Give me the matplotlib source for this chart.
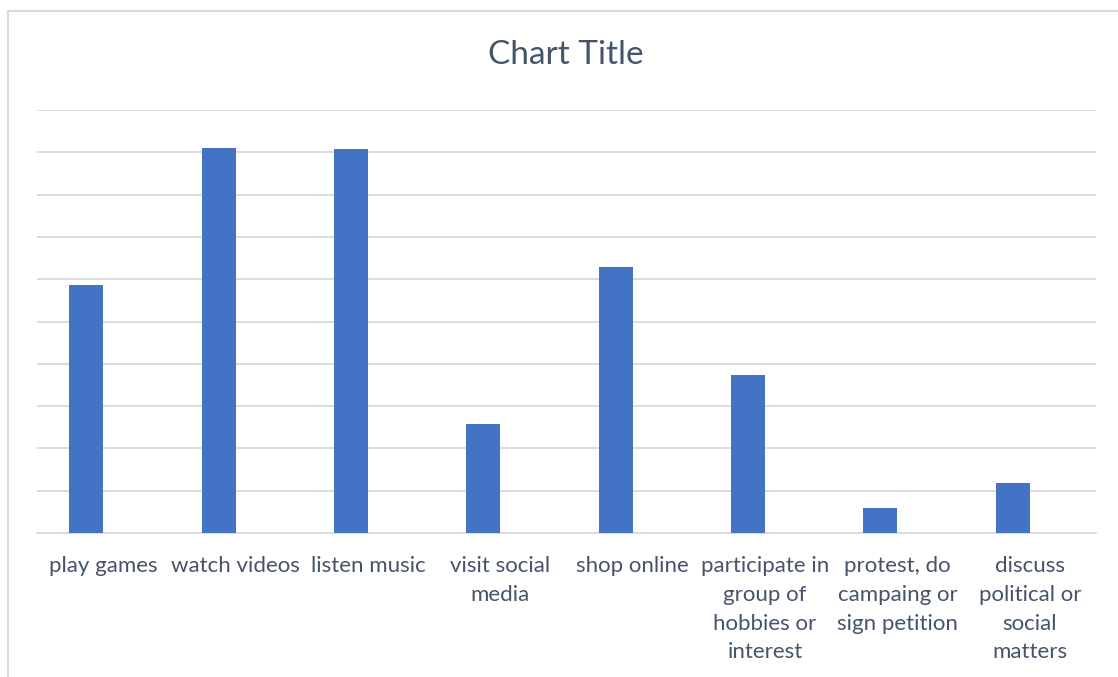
import matplotlib.pyplot as plt
from matplotlib.lines import Line2D

categories = ['play games', 'watch videos', 'listen music', 'visit social\nmedia',
              'shop online', 'participate in\ngroup of\nhobbies or\ninterest',
              'protest, do\ncampaing or\nsign petition', 'discuss\npolitical or\nsocial\nmatters']
values = [5.87, 9.10, 9.08, 2.58, 6.28, 3.74, 0.58, 1.18]

plt.rcParams['font.family'] = ['Lato', 'DejaVu Sans']
txt = '#44546A'

fig = plt.figure(figsize=(11.18, 6.77), dpi=100)
ax = fig.add_axes([37/1118, 1-533/677, (1096-37)/1118, (533-110)/677])

x = list(range(len(categories)))
w = 0.257
# bars sit in the left half of each category slot (empty second series in the original)
ax.bar([i - w/2 for i in x], values, width=w, color='#4472C4', zorder=3)

ax.set_ylim(0, 10)
ax.set_xlim(-0.5, 7.5)
ax.set_yticks(range(0, 11))
ax.yaxis.grid(True, color='#d9d9d9', linewidth=1.3, zorder=0)
ax.tick_params(left=False, labelleft=False, bottom=False)
for s in ['left', 'right', 'top']:
    ax.spines[s].set_visible(False)
ax.spines['bottom'].set_color('#d9d9d9')
ax.spines['bottom'].set_linewidth(1.3)

ax.set_xticks(x)
ax.set_xticklabels(categories, fontsize=16, color=txt, linespacing=1.55, va='top')
ax.tick_params(axis='x', pad=13)

fig.text(566/1118, 1-55/677, 'Chart Title', fontsize=24, color=txt, ha='center', va='center')

# outer chart border (cropped at right and bottom)
fig.add_artist(Line2D([8/1118, 8/1118], [0, 1-11/677], color='#d9d9d9', linewidth=1.5))
fig.add_artist(Line2D([8/1118, 1], [1-11/677, 1-11/677], color='#d9d9d9', linewidth=1.5))

plt.savefig('out.png')
